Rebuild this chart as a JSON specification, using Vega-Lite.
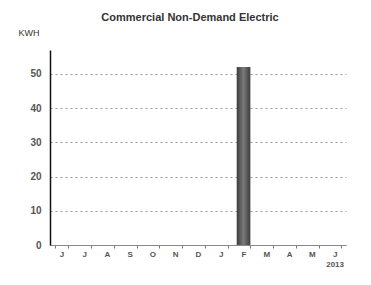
{
  "$schema": "https://vega.github.io/schema/vega-lite/v6.json",
  "autosize": "none",
  "width": 296,
  "height": 195,
  "padding": {"left": 50, "top": 50, "right": 25, "bottom": 40},
  "background": "white",
  "title": {
    "text": "Commercial Non-Demand Electric",
    "font": "Liberation Sans",
    "fontSize": 11,
    "fontWeight": "bold",
    "color": "#333333",
    "anchor": "middle",
    "dx": -8,
    "offset": 5
  },
  "data": {
    "values": [
      {"idx": 0, "month": "Jun 2012", "kwh": 0},
      {"idx": 1, "month": "Jul 2012", "kwh": 0},
      {"idx": 2, "month": "Aug 2012", "kwh": 0},
      {"idx": 3, "month": "Sep 2012", "kwh": 0},
      {"idx": 4, "month": "Oct 2012", "kwh": 0},
      {"idx": 5, "month": "Nov 2012", "kwh": 0},
      {"idx": 6, "month": "Dec 2012", "kwh": 0},
      {"idx": 7, "month": "Jan 2013", "kwh": 0},
      {"idx": 8, "month": "Feb 2013", "kwh": 52},
      {"idx": 9, "month": "Mar 2013", "kwh": 0},
      {"idx": 10, "month": "Apr 2013", "kwh": 0},
      {"idx": 11, "month": "May 2013", "kwh": 0},
      {"idx": 12, "month": "Jun 2013", "kwh": 0}
    ]
  },
  "mark": {
    "type": "bar",
    "fill": {
      "gradient": "linear",
      "x1": 0, "x2": 1, "y1": 0, "y2": 0,
      "stops": [
        {"offset": 0, "color": "#3c3c3c"},
        {"offset": 0.5, "color": "#7a7a7a"},
        {"offset": 1, "color": "#3c3c3c"}
      ]
    }
  },
  "encoding": {
    "x": {
      "field": "idx",
      "type": "ordinal",
      "scale": {"paddingInner": 0.4, "paddingOuter": 0.2},
      "axis": {
        "title": null,
        "labelAngle": 0,
        "labelExpr": "datum.value == 12 ? ['J', '2013'] : ['J','J','A','S','O','N','D','J','F','M','A','M','J'][datum.value]",
        "labelFont": "Liberation Sans",
        "labelFontSize": 8,
        "labelFontWeight": "bold",
        "labelColor": "#555555",
        "labelPadding": 2,
        "domainColor": "#888888",
        "domainWidth": 1,
        "tickBand": "extent",
        "tickSize": 3,
        "tickColor": "#777777",
        "grid": false
      }
    },
    "y": {
      "field": "kwh",
      "type": "quantitative",
      "scale": {"domain": [0, 57], "nice": false},
      "axis": {
        "title": "KWH",
        "titleAngle": 0,
        "titleX": -32,
        "titleY": -18,
        "titleAlign": "left",
        "titleBaseline": "middle",
        "titleFont": "Liberation Sans",
        "titleFontSize": 9,
        "titleFontWeight": "normal",
        "titleColor": "#333333",
        "values": [0, 10, 20, 30, 40, 50],
        "labelFont": "Liberation Sans",
        "labelFontSize": 10,
        "labelFontWeight": "bold",
        "labelColor": "#555555",
        "labelPadding": 9,
        "ticks": false,
        "domainColor": "#111111",
        "domainWidth": 1.5,
        "grid": true,
        "gridColor": "#999999",
        "gridDash": [2, 3],
        "gridWidth": 1
      }
    }
  },
  "config": {
    "view": {"stroke": null}
  }
}
